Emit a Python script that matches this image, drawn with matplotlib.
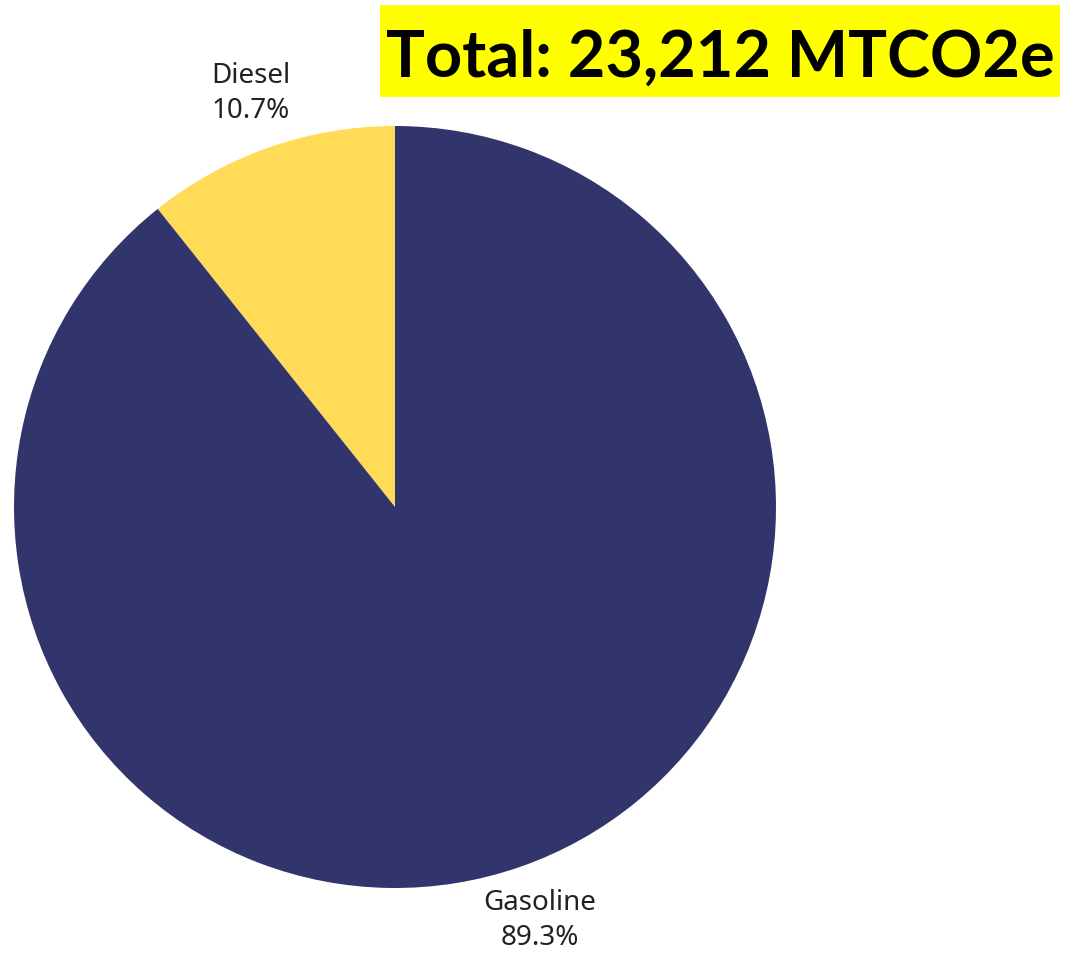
import matplotlib
matplotlib.use("Agg")
import matplotlib.pyplot as plt
from matplotlib.patches import Rectangle

categories = ["Diesel", "Gasoline"]
shares = [10.7, 89.3]
colors = ["#FFDB58", "#31356B"]
title_text = "Total: 23,212 MTCO2e"

W, H = 1076, 966
fig = plt.figure(figsize=(W / 100, H / 100), dpi=100)
cx, cy, r = 395, 507, 381
ax = fig.add_axes([(cx - r) / W, (H - cy - r) / H, 2 * r / W, 2 * r / H])

labels = [f"{c}\n{s:.1f}%" for c, s in zip(categories, shares)]
wedges, texts = ax.pie(shares, colors=colors, startangle=90, counterclock=True,
                       labels=labels, labeldistance=1.15, radius=1,
                       textprops=dict(fontsize=20, color="#222222", family="Noto Sans",
                                      linespacing=1.3))
for t in texts:
    t.set_ha("center")
    t.set_va("center")
ax.set_xlim(-1, 1)
ax.set_ylim(-1, 1)
ax.set_aspect("equal")
ax.axis("off")

fig.patches.append(Rectangle((380 / W, 1 - 97 / H), 680 / W, 92 / H,
                   transform=fig.transFigure, facecolor="#FFFF00", edgecolor="none", zorder=0))
title = fig.text(720 / W, 1 - 58 / H, title_text, ha="center", va="center",
                 fontsize=50, fontweight="bold", family=["Lato", "DejaVu Sans"], color="black")
renderer = fig.canvas.get_renderer()
w = title.get_window_extent(renderer).width
title.set_fontsize(50 * 670 / w)

fig.savefig("out.png", dpi=100)
